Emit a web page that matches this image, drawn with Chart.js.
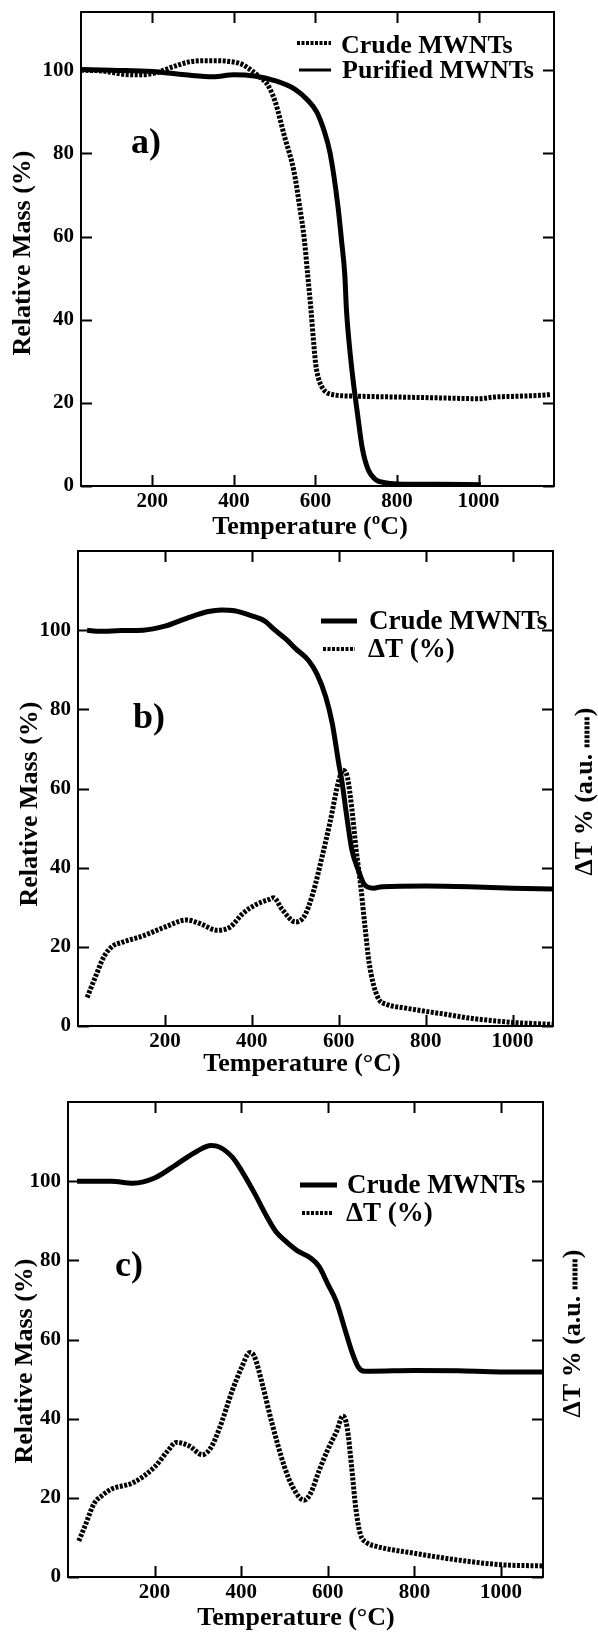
<!DOCTYPE html>
<html><head><meta charset="utf-8">
<script src="https://cdn.jsdelivr.net/npm/chart.js@4/dist/chart.umd.min.js"></script>
<style>
html,body{margin:0;padding:0;background:#fff;width:598px;height:1633px;overflow:hidden}
canvas{position:absolute;left:0}
</style></head><body>
<canvas id="ca" width="598" height="540" style="top:0px"></canvas>
<canvas id="cb" width="598" height="540" style="top:540px"></canvas>
<canvas id="cc" width="598" height="553" style="top:1080px"></canvas>
<script>
// ---------- data ----------
const xTicks = [200, 400, 600, 800, 1000];
const yTicks = [0, 20, 40, 60, 80, 100];

// panel a
const aCrudeT = [25, 80, 130, 170, 210, 250, 290, 340, 390, 420, 445, 465, 482, 501, 524, 547, 561, 573, 581, 589, 596, 601, 608, 620, 641, 700, 800, 900, 1000, 1040, 1100, 1150, 1178];
const aCrudeM = [100, 99.8, 99.0, 98.9, 99.4, 100.8, 102.0, 102.3, 102.1, 101.4, 99.8, 98.2, 96.6, 92.5, 84.1, 75.8, 67.4, 59, 50.7, 42.4, 34, 29, 25.7, 23.2, 22, 21.6, 21.4, 21.2, 21.0, 21.4, 21.6, 21.8, 22];
const aPurT = [25, 100, 200, 280, 350, 400, 450, 500, 550, 580, 603, 620, 636, 655, 664, 672, 676, 683, 692, 703, 715, 729, 748, 770, 800, 900, 1006];
const aPurM = [100.2, 100, 99.7, 98.9, 98.4, 98.9, 98.6, 97.5, 95.4, 92.9, 90, 85.8, 80, 67.4, 59, 50.7, 42.4, 34, 25.7, 17.4, 9, 4, 1.5, 0.8, 0.5, 0.4, 0.3];

// panel b
const bCrudeT = [21, 50, 100, 150, 200, 250, 300, 330, 360, 400, 430, 450, 480, 500, 530, 550, 570, 585, 600, 607, 618, 630, 645, 658, 680, 700, 800, 900, 1000, 1093];
const bCrudeM = [100, 99.7, 99.9, 100, 101, 103, 104.7, 105.1, 104.9, 103.6, 102.3, 100.3, 97.6, 95.4, 92.4, 88.9, 83.2, 76.5, 66.3, 62, 53.3, 44.6, 39.4, 35.9, 34.8, 35.2, 35.4, 35.2, 34.8, 34.6];
const bDeltaT = [21, 40, 60, 80, 100, 150, 200, 250, 280, 320, 350, 380, 410, 440, 450, 470, 500, 520, 540, 560, 580, 600, 610, 620, 630, 640, 650, 660, 670, 690, 710, 750, 800, 850, 900, 950, 1000, 1093];
const bDeltaV = [7.2, 12.4, 17.6, 20.2, 21.1, 22.8, 25, 26.8, 25.9, 24.2, 25, 28.5, 30.7, 32, 32.4, 29.4, 26.3, 27.6, 33.3, 42, 51.5, 62, 64.6, 62.8, 55, 44.6, 35.9, 25.5, 15.9, 7.2, 5.5, 4.6, 3.7, 2.9, 2.0, 1.4, 0.9, 0.4];

// panel c
const cCrudeT = [21, 100, 150, 200, 250, 300, 330, 350, 380, 400, 430, 460, 480, 500, 530, 560, 580, 600, 620, 640, 655, 670, 685, 700, 800, 900, 1000, 1097];
const cCrudeM = [100, 100, 99.5, 100.8, 104.2, 107.7, 109, 108.6, 106, 102.8, 97.1, 90.9, 87.3, 85.1, 82.4, 80.6, 78.4, 74, 69.5, 62.4, 57.1, 53.1, 52, 52, 52.2, 52.1, 51.8, 51.8];
const cDeltaT = [25, 40, 60, 80, 100, 150, 200, 230, 250, 280, 310, 330, 350, 380, 400, 420, 430, 450, 470, 500, 520, 545, 560, 580, 600, 620, 635, 645, 655, 665, 675, 690, 710, 800, 900, 1000, 1097];
const cDeltaV = [9.1, 13.1, 18.5, 20.7, 22.2, 23.8, 27.8, 31.8, 34, 33.1, 30.9, 32.7, 37.6, 47.3, 52.7, 56.7, 55.8, 48.2, 39.3, 27.8, 22.5, 19.4, 21.1, 26.9, 32.2, 36.7, 40.7, 37.6, 27.8, 17.1, 10.9, 8.7, 7.8, 6.0, 4.3, 3.1, 2.8];

// ---------- helpers ----------
const W = 598;
const SERIF = '"Liberation Serif", "Times New Roman", Times, serif';
const DASH = [3, 1.5];
const pts = (xs, ys) => xs.map((x, i) => ({ x: x, y: ys[i] }));
const solid = (label, xs, ys, w) => ({ label, data: pts(xs, ys), borderColor: '#000', borderWidth: w, borderDash: [], cubicInterpolationMode: 'monotone', pointRadius: 0, fill: false, borderCapStyle: 'butt' });
const dotted = (label, xs, ys, w) => ({ label, data: pts(xs, ys), borderColor: '#000', borderWidth: w, borderDash: DASH, cubicInterpolationMode: 'monotone', pointRadius: 0, fill: false, borderCapStyle: 'butt' });

function deco(cfg) {
  return {
    id: 'deco',
    afterDatasetsDraw(chart) {
      const { ctx, chartArea: ca, scales: { x, y } } = chart;
      ctx.save();
      ctx.strokeStyle = '#000';
      ctx.fillStyle = '#000';
      ctx.setLineDash([]);
      ctx.lineWidth = 2;
      ctx.strokeRect(ca.left, ca.top, ca.right - ca.left, ca.bottom - ca.top);
      const tl = 11;
      ctx.beginPath();
      xTicks.forEach(v => {
        const px = Math.round(x.getPixelForValue(v)) + 0.5;
        ctx.moveTo(px, ca.bottom); ctx.lineTo(px, ca.bottom - tl);
        ctx.moveTo(px, ca.top); ctx.lineTo(px, ca.top + tl);
      });
      yTicks.forEach(v => {
        const py = Math.round(y.getPixelForValue(v)) + 0.5;
        ctx.moveTo(ca.left, py); ctx.lineTo(ca.left + tl, py);
        ctx.moveTo(ca.right, py); ctx.lineTo(ca.right - tl, py);
      });
      ctx.stroke();

      // legend entries
      cfg.legend.forEach(e => {
        const ds = chart.data.datasets[e.ds];
        ctx.save();
        ctx.lineWidth = e.lw;
        ctx.setLineDash(ds.borderDash || []);
        ctx.lineCap = 'butt';
        ctx.beginPath(); ctx.moveTo(e.x1, e.ly); ctx.lineTo(e.x2, e.ly); ctx.stroke();
        ctx.restore();
        ctx.font = 'bold ' + e.fs + 'px ' + SERIF;
        ctx.textAlign = 'left'; ctx.textBaseline = 'alphabetic';
        ctx.fillText(ds.label, e.tx, e.ty);
      });

      // panel label
      ctx.font = 'bold 36px ' + SERIF;
      ctx.textAlign = 'center'; ctx.textBaseline = 'middle';
      ctx.fillText(cfg.panel.text, cfg.panel.x, cfg.panel.y);

      // x title
      ctx.font = 'bold 26px ' + SERIF;
      ctx.fillText(cfg.xTitle.text, cfg.xTitle.x, cfg.xTitle.y);

      // y title
      ctx.save();
      ctx.translate(cfg.yTitle.x, cfg.yTitle.y);
      ctx.rotate(-Math.PI / 2);
      ctx.fillText(cfg.yTitle.text, 0, 0);
      ctx.restore();

      // right title with dotted sample
      if (cfg.rTitle) {
        ctx.save();
        ctx.translate(cfg.rTitle.x, cfg.rTitle.y);
        ctx.rotate(-Math.PI / 2);
        ctx.font = 'bold 26px ' + SERIF;
        ctx.textAlign = 'left'; ctx.textBaseline = 'middle';
        const p1 = cfg.rTitle.text, p2 = ')';
        const w1 = ctx.measureText(p1).width, w2 = ctx.measureText(p2).width, wd = 30;
        const start = -(w1 + wd + w2) / 2;
        ctx.fillText(p1, start, 0);
        ctx.lineWidth = 5; ctx.setLineDash(DASH);
        ctx.beginPath(); ctx.moveTo(start + w1, 2); ctx.lineTo(start + w1 + wd, 2); ctx.stroke();
        ctx.setLineDash([]);
        ctx.fillText(p2, start + w1 + wd + 1, 0);
        ctx.restore();
      }
      ctx.restore();
    }
  };
}

function makeChart(id, cfg) {
  const tickFont = { family: SERIF, size: 21, weight: 'bold', lineHeight: 1 };
  return new Chart(document.getElementById(id), {
    type: 'line',
    data: { datasets: cfg.datasets },
    options: {
      responsive: false, animation: false, devicePixelRatio: 1,
      layout: { padding: { top: cfg.area.top, right: W - cfg.area.right, left: 0, bottom: 0 } },
      plugins: { legend: { display: false }, tooltip: { enabled: false }, title: { display: false } },
      scales: {
        x: {
          type: 'linear', min: cfg.xmin, max: cfg.xmax,
          grid: { display: false, drawTicks: false }, border: { display: false },
          afterBuildTicks: s => { s.ticks = xTicks.map(v => ({ value: v })); },
          afterFit: s => { s.height = cfg.H - cfg.area.bottom; s.paddingLeft = 0; s.paddingRight = 0; },
          ticks: { font: tickFont, color: '#000', padding: 5, maxRotation: 0, autoSkip: false, callback: v => String(v) }
        },
        y: {
          type: 'linear', min: 0, max: cfg.ymax,
          grid: { display: false, drawTicks: false }, border: { display: false },
          afterBuildTicks: s => { s.ticks = yTicks.map(v => ({ value: v })); },
          afterFit: s => { s.width = cfg.area.left; s.paddingTop = 0; s.paddingBottom = 0; },
          ticks: { font: tickFont, color: '#000', padding: 7, autoSkip: false, callback: v => String(v) }
        }
      }
    },
    plugins: [deco(cfg)]
  });
}

// ---------- panels ----------
makeChart('ca', {
  H: 540, area: { left: 81, right: 554, top: 12, bottom: 486 },
  xmin: 25, xmax: 1185, ymax: 114,
  datasets: [dotted('Crude MWNTs', aCrudeT, aCrudeM, 5), solid('Purified MWNTs', aPurT, aPurM, 5)],
  legend: [
    { ds: 0, x1: 297, x2: 331, ly: 43, lw: 4, tx: 341, ty: 53, fs: 26 },
    { ds: 1, x1: 299, x2: 331, ly: 70, lw: 3, tx: 342, ty: 78, fs: 26 }
  ],
  panel: { text: 'a)', x: 146, y: 144 },
  xTitle: { text: 'Temperature (\u00BAC)', x: 310, y: 527 },
  yTitle: { text: 'Relative Mass (%)', x: 23, y: 253 }
});

makeChart('cb', {
  H: 540, area: { left: 78, right: 553, top: 11, bottom: 486 },
  xmin: 0, xmax: 1093, ymax: 120,
  datasets: [solid('Crude MWNTs', bCrudeT, bCrudeM, 5), dotted('\u0394T (%)', bDeltaT, bDeltaV, 5)],
  legend: [
    { ds: 0, x1: 321, x2: 357, ly: 81, lw: 5, tx: 369, ty: 89, fs: 27 },
    { ds: 1, x1: 323, x2: 355, ly: 109, lw: 4, tx: 368, ty: 117, fs: 27 }
  ],
  panel: { text: 'b)', x: 149, y: 179 },
  xTitle: { text: 'Temperature (\u00B0C)', x: 302, y: 524 },
  yTitle: { text: 'Relative Mass (%)', x: 30, y: 264 },
  rTitle: { text: '\u0394T % (a.u. ', x: 585, y: 252 }
});

makeChart('cc', {
  H: 553, area: { left: 68, right: 543, top: 22, bottom: 497 },
  xmin: 0, xmax: 1097, ymax: 120,
  datasets: [solid('Crude MWNTs', cCrudeT, cCrudeM, 5), dotted('\u0394T (%)', cDeltaT, cDeltaV, 5)],
  legend: [
    { ds: 0, x1: 300, x2: 337, ly: 105, lw: 5, tx: 347, ty: 113, fs: 27 },
    { ds: 1, x1: 302, x2: 333, ly: 133, lw: 4, tx: 346, ty: 141, fs: 27 }
  ],
  panel: { text: 'c)', x: 129, y: 187 },
  xTitle: { text: 'Temperature (\u00B0C)', x: 296, y: 538 },
  yTitle: { text: 'Relative Mass (%)', x: 25, y: 281 },
  rTitle: { text: '\u0394T % (a.u. ', x: 573, y: 254 }
});
</script>
</body></html>
